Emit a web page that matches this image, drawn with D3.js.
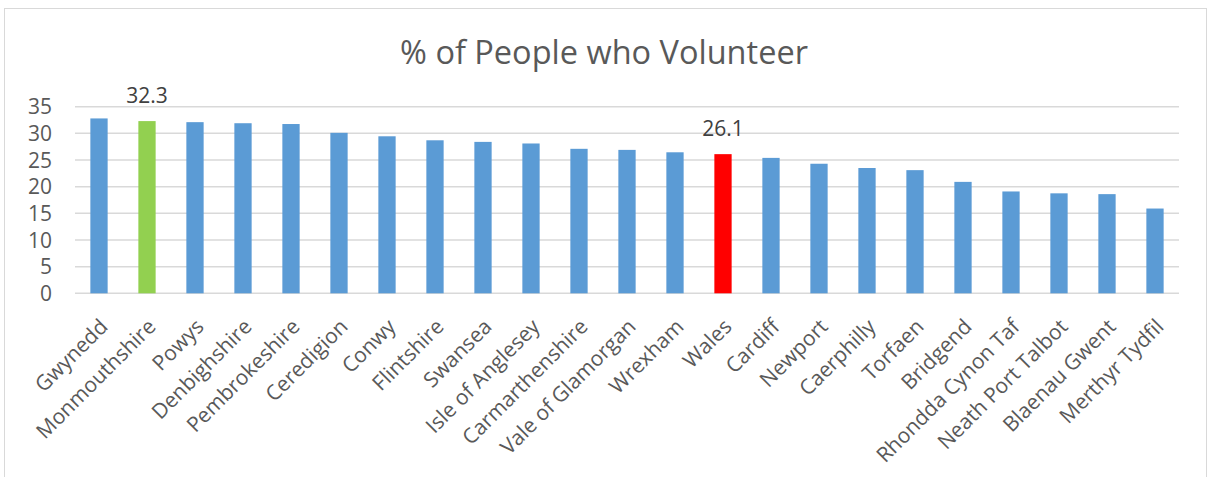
<!DOCTYPE html>
<html>
<head>
<meta charset="utf-8">
<script src="https://cdn.jsdelivr.net/npm/d3@7"></script>
<style>
  body { margin: 0; background: #fff; }
  svg { display: block; font-family: "Open Sans", Lato, sans-serif; }
</style>
</head>
<body>
<svg id="chart" width="1208" height="477"></svg>
<script>
// chart data
var areas = ['Gwynedd', 'Monmouthshire', 'Powys', 'Denbighshire', 'Pembrokeshire', 'Ceredigion',
  'Conwy', 'Flintshire', 'Swansea', 'Isle of Anglesey', 'Carmarthenshire', 'Vale of Glamorgan',
  'Wrexham', 'Wales', 'Cardiff', 'Newport', 'Caerphilly', 'Torfaen', 'Bridgend',
  'Rhondda Cynon Taf', 'Neath Port Talbot', 'Blaenau Gwent', 'Merthyr Tydfil'];
var volunteerPct = [32.8, 32.3, 32.1, 31.9, 31.75, 30.1, 29.45, 28.7, 28.4, 28.1, 27.1, 26.9,
  26.45, 26.1, 25.4, 24.3, 23.5, 23.1, 20.9, 19.1, 18.75, 18.6, 15.9];
var yTicks = [0, 5, 10, 15, 20, 25, 30, 35];
var highlighted = { 'Monmouthshire': '#92D050', 'Wales': '#FF0000' };
var labelled = ['Monmouthshire', 'Wales'];

var svg = d3.select('#chart');

// outer frame
svg.append('rect')
  .attr('x', 4.5).attr('y', 8.5)
  .attr('width', 1202).attr('height', 480)
  .attr('fill', '#fff')
  .attr('stroke', '#D9D9D9');

// title
svg.append('text')
  .attr('x', 604).attr('y', 63.5)
  .attr('text-anchor', 'middle')
  .attr('font-size', 32.5)
  .attr('fill', '#595959')
  .text('% of People who Volunteer');

var plotLeft = 75, plotRight = 1179, plotTop = 106.7, plotBottom = 293.3;

var x = d3.scaleBand().domain(areas).range([plotLeft, plotRight]).paddingInner(0.64).paddingOuter(0.32);
var y = d3.scaleLinear().domain([0, 35]).range([plotBottom, plotTop]);

// gridlines
svg.append('g')
  .selectAll('line')
  .data(yTicks)
  .enter()
  .append('line')
  .attr('x1', plotLeft).attr('x2', plotRight)
  .attr('y1', function(d) { return y(d); })
  .attr('y2', function(d) { return y(d); })
  .attr('stroke', '#D9D9D9')
  .attr('stroke-width', 1.5);

// y axis labels
svg.append('g')
  .selectAll('text')
  .data(yTicks)
  .enter()
  .append('text')
  .attr('x', 52)
  .attr('y', function(d) { return y(d); })
  .attr('dy', '0.36em')
  .attr('text-anchor', 'end')
  .attr('font-size', 21)
  .attr('fill', '#595959')
  .text(function(d) { return d; });

// bars
svg.append('g')
  .selectAll('rect')
  .data(areas)
  .enter()
  .append('rect')
  .attr('x', function(d) { return x(d); })
  .attr('width', x.bandwidth())
  .attr('y', function(d, i) { return y(volunteerPct[i]); })
  .attr('height', function(d, i) { return y(0) - y(volunteerPct[i]); })
  .attr('fill', function(d) { return highlighted[d] || '#5B9BD5'; });

// data labels on highlighted bars
svg.append('g')
  .selectAll('text')
  .data(labelled)
  .enter()
  .append('text')
  .attr('x', function(d) { return x(d) + x.bandwidth() / 2; })
  .attr('y', function(d) { return y(volunteerPct[areas.indexOf(d)]) - 18; })
  .attr('text-anchor', 'middle')
  .attr('font-size', 21)
  .attr('fill', '#404040')
  .text(function(d) { return volunteerPct[areas.indexOf(d)].toFixed(1); });

// category labels, rotated
svg.append('g')
  .selectAll('text')
  .data(areas)
  .enter()
  .append('text')
  .attr('transform', function(d) {
    var cx = x(d) + x.bandwidth() / 2 + 10;
    return 'translate(' + cx + ',' + 328 + ') rotate(-45)';
  })
  .attr('text-anchor', 'end')
  .attr('font-size', 21)
  .attr('fill', '#595959')
  .text(function(d) { return d; });
</script>
</body>
</html>
